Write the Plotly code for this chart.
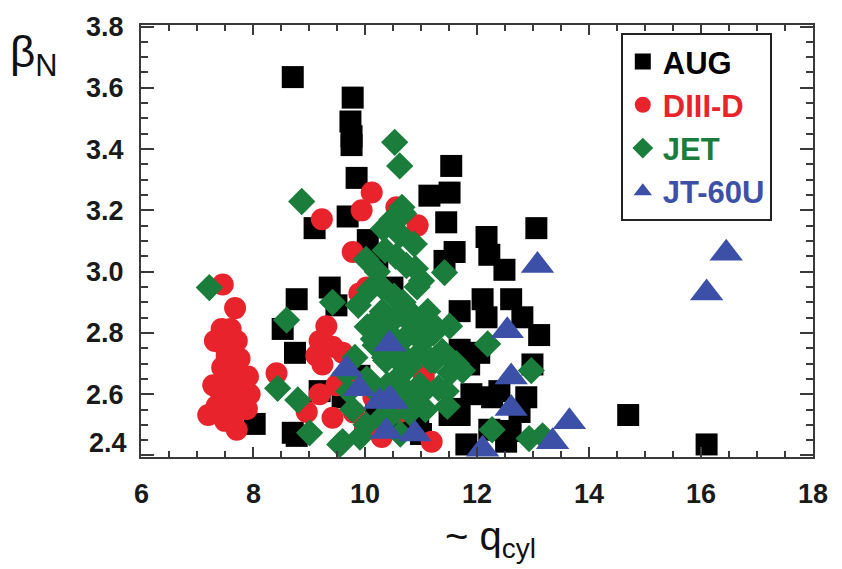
import plotly.graph_objects as go

# ---------------- data ----------------
aug_x = [8.71, 9.78, 9.74, 9.76, 9.76, 9.85, 11.54, 11.15, 11.51, 11.45, 12.17, 13.06,
         11.60, 11.42, 12.22, 12.49, 11.69, 12.10, 12.17, 12.61, 12.81, 13.11, 12.04,
         12.27, 12.88, 12.99, 11.51, 11.69, 11.81, 12.76, 12.22, 12.52, 11.69, 11.86,
         9.69, 9.10, 10.05, 10.22, 8.78, 9.37, 9.49, 8.53, 8.75, 8.03, 8.78, 9.19,
         10.49, 14.70, 16.10, 12.40, 11.56, 8.71, 10.20, 10.70, 11.00, 9.60, 9.90, 10.95,
         11.90, 12.60]
aug_y = [3.635, 3.568, 3.490, 3.442, 3.413, 3.306, 3.345, 3.248, 3.258, 3.161, 3.113, 3.142,
         3.064, 3.035, 3.055, 3.006, 2.871, 2.910, 2.851, 2.910, 2.851, 2.793, 2.735,
         2.590, 2.590, 2.697, 2.532, 2.532, 2.436, 2.542, 2.484, 2.445, 2.745, 2.697,
         3.180, 3.142, 3.103, 3.035, 2.910, 2.948, 2.890, 2.813, 2.735, 2.503, 2.464, 2.610,
         2.948, 2.532, 2.436, 2.610, 2.552, 2.474, 2.540, 2.490, 2.470, 2.590, 2.660, 2.540,
         2.600, 2.480]

diiid_x = [7.46, 7.68, 7.44, 7.32, 7.71, 7.53, 7.76, 7.29, 7.64, 7.91, 7.41, 7.94, 7.20,
           7.64, 7.89, 7.71, 7.59, 7.50, 7.60, 7.55, 7.45, 7.75, 7.80, 7.35, 7.55, 7.65, 7.50,
           8.42, 10.12, 9.94, 9.23, 9.78, 10.56, 10.94, 9.31, 9.19, 9.42, 9.24, 9.60, 9.13,
           9.49, 9.19, 8.96, 9.42, 10.03, 9.90, 10.31, 11.19, 10.00, 10.30, 10.60, 10.90,
           9.80, 11.05, 10.15, 9.90]
diiid_y = [2.958, 2.881, 2.813, 2.774, 2.774, 2.726, 2.716, 2.629, 2.668, 2.658, 2.610, 2.600, 2.532,
           2.523, 2.552, 2.484, 2.581, 2.755, 2.813, 2.639, 2.687, 2.619, 2.561, 2.561, 2.542, 2.590, 2.513,
           2.668, 3.258, 3.200, 3.171, 3.064, 3.210, 3.151, 2.822, 2.774, 2.755, 2.697, 2.735, 2.726,
           2.629, 2.600, 2.542, 2.523, 2.948, 2.929, 2.861, 2.445, 2.490, 2.460, 2.540, 2.590,
           2.540, 2.660, 2.590, 2.640]

jet_x = [7.22, 8.60, 8.44, 8.87, 9.42, 8.80, 9.01, 9.60, 10.53, 10.62, 11.42, 11.51, 12.19,
         12.97, 12.27, 12.93, 13.17, 11.45, 11.74, 9.55,
         10.48, 10.63, 10.36, 10.02, 10.22, 10.74, 10.08, 10.52, 10.93, 11.12, 9.88, 10.31,
         10.68, 10.04, 10.43, 10.83, 11.22, 10.18, 10.61, 11.03, 11.38, 9.82, 10.37, 10.79,
         11.18, 11.52, 10.03, 10.57, 10.98, 9.71, 10.24, 10.84, 9.78, 10.46, 11.08, 10.02,
         10.63, 9.91, 10.28, 11.31, 11.63, 11.47, 10.88, 10.33, 10.66, 11.01, 9.66, 10.58, 10.69,
         10.25, 10.55, 10.85, 11.15, 10.15, 10.45, 10.75, 11.05, 10.35, 10.65, 10.95, 11.25,
         10.10, 10.40, 10.70, 11.00, 10.30, 10.90, 10.80, 10.55]
jet_y = [2.948, 2.842, 2.619, 3.229, 2.900, 2.581, 2.474, 2.445, 3.422, 3.345, 2.997, 2.822, 2.764,
         2.677, 2.484, 2.455, 2.464, 2.610, 2.677, 2.436,
         3.170, 3.120, 3.070, 3.040, 3.000, 3.020, 2.940, 2.920, 2.950, 2.870, 2.890, 2.870,
         2.900, 2.820, 2.800, 2.830, 2.800, 2.760, 2.740, 2.770, 2.740, 2.720, 2.710, 2.690,
         2.710, 2.670, 2.650, 2.650, 2.630, 2.610, 2.600, 2.580, 2.550, 2.530, 2.550, 2.500,
         2.470, 2.460, 2.520, 2.620, 2.700, 2.560, 3.090, 3.140, 3.210, 2.970, 2.670, 3.130, 3.190,
         2.850, 2.850, 2.860, 2.840, 2.780, 2.770, 2.790, 2.790, 2.720, 2.700, 2.730, 2.710,
         2.640, 2.630, 2.620, 2.600, 2.950, 3.010, 2.540, 3.050]

jt60u_x = [13.08, 12.54, 12.61, 12.61, 13.65, 13.35, 12.10, 10.44, 10.44, 10.38, 9.67, 9.90,
           10.26, 10.49, 10.89, 16.10, 16.45]
jt60u_y = [3.020, 2.807, 2.656, 2.553, 2.510, 2.445, 2.420, 2.764, 2.585, 2.478, 2.682, 2.618,
           2.576, 2.576, 2.470, 2.930, 3.060]

series_names = ["AUG", "DIII-D", "JET", "JT-60U"]
x_ticks = [6, 8, 10, 12, 14, 16, 18]
y_ticks = [2.4, 2.6, 2.8, 3.0, 3.2, 3.4, 3.6, 3.8]
y_ticktext = [" ", "2.6", "2.8", "3.0", "3.2", "3.4", "3.6", "3.8"]

# ---------------- styling ----------------
C_AUG, C_D3D, C_JET, C_JT = "#000000", "#e8232c", "#1b7d3c", "#3d50a8"
FONT = "Liberation Sans, Arial, sans-serif"
AX = "#3a3a3a"
TICKFONT = dict(family=FONT, size=27, color="#1a1a1a", weight=700)

fig = go.Figure()
specs = [
    (aug_x, aug_y, series_names[0], "square", C_AUG, 22),
    (diiid_x, diiid_y, series_names[1], "circle", C_D3D, 22),
    (jet_x, jet_y, series_names[2], "diamond", C_JET, 21),
    (jt60u_x, jt60u_y, series_names[3], "triangle-up", C_JT, 29),
]
for xs, ys, nm, sym, col, sz in specs:
    fig.add_trace(go.Scatter(
        x=xs, y=ys, mode="markers",
        name=f"<b><span style='color:{col}'>{nm}</span></b>",
        marker=dict(symbol=sym, color=col, size=sz, line=dict(width=0)),
    ))

axis_common = dict(
    showline=True, linecolor=AX, linewidth=2, mirror="allticks",
    ticks="inside", tickcolor=AX, tickwidth=2,
    showgrid=False, zeroline=False,
)

fig.update_layout(
    width=842, height=569,
    margin=dict(l=141, r=29, t=19, b=112),
    paper_bgcolor="white", plot_bgcolor="white",
    xaxis=dict(range=[6, 18], tickmode="array", tickvals=x_ticks,
               showticklabels=False, ticklen=10,
               minor=dict(dtick=0.5, tick0=6, ticks="inside", ticklen=6,
                          tickcolor=AX, tickwidth=2),
               **axis_common),
    yaxis=dict(range=[2.395, 3.805], tickmode="array", tickvals=y_ticks,
               ticktext=y_ticktext, ticklen=13,
               tickfont=TICKFONT,
               minor=dict(dtick=0.05, tick0=2.4, ticks="inside", ticklen=7,
                          tickcolor=AX, tickwidth=2),
               ticklabelstandoff=10, **axis_common),
    legend=dict(x=0.714, y=0.982, xanchor="left", yanchor="top",
                bordercolor="#222222", borderwidth=2, bgcolor="white",
                font=dict(family=FONT, size=31), tracegroupgap=0),
    showlegend=True,
)

# bold x tick labels (placed at the axis tick values)
for v in x_ticks:
    fig.add_annotation(xref="x", yref="paper", x=v, y=-0.085,
                       xanchor="center", yanchor="middle", showarrow=False,
                       text=f"<b>{v}</b>", font=dict(family=FONT, size=27, color="#1a1a1a"))

fig.add_annotation(xref="paper", yref="y", x=0, y=2.4, xshift=-12, yshift=12,
                   xanchor="right", yanchor="middle", showarrow=False,
                   text="<b>2.4</b>", font=dict(family=FONT, size=27, color="#1a1a1a"))
fig.add_annotation(xref="paper", yref="paper", x=-0.198, y=0.93,
                   xanchor="left", yanchor="middle", showarrow=False,
                   text="β<sub>N</sub>", font=dict(family=FONT, size=44, color="#111111"))
fig.add_annotation(xref="paper", yref="paper", x=0.52, y=-0.19,
                   xanchor="center", yanchor="middle", showarrow=False,
                   text="~ q<sub>cyl</sub>", font=dict(family=FONT, size=40, color="#111111"))

fig.write_html("out.html")
